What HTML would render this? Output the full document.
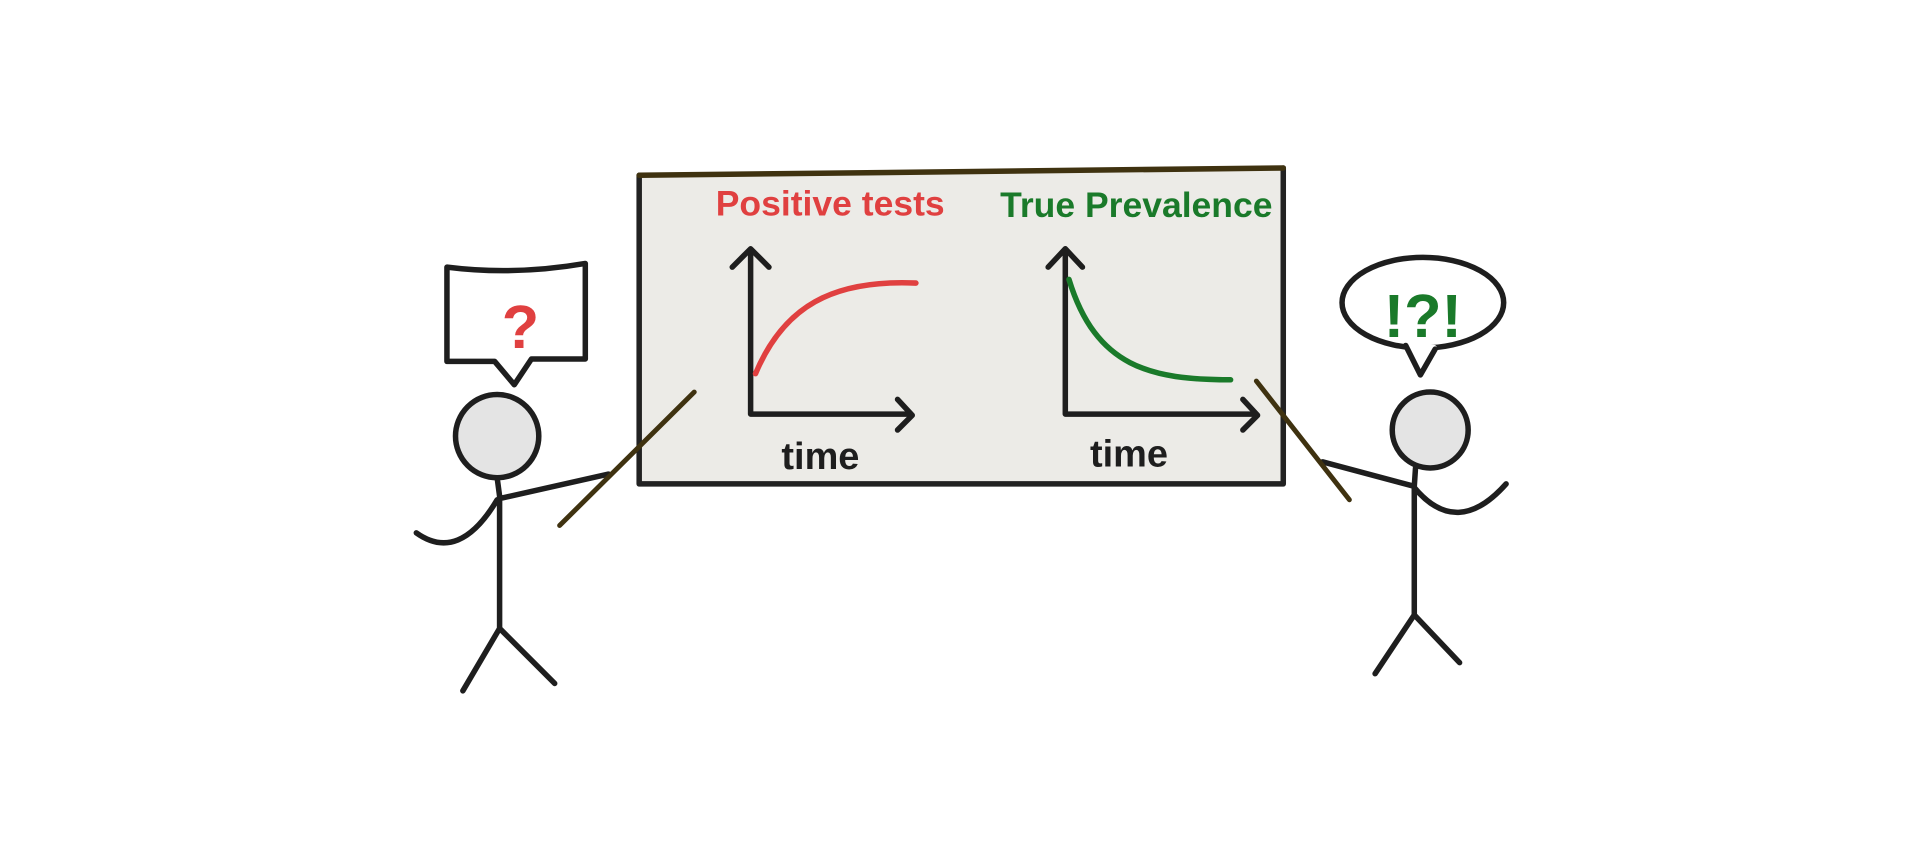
<!DOCTYPE html>
<html><head><meta charset="utf-8"><style>
html,body{margin:0;padding:0;background:#fff;}
svg{display:block}
text{font-family:"Liberation Sans",sans-serif;font-weight:bold}
</style></head><body>
<svg width="1920" height="860" viewBox="0 0 1568 702" xmlns="http://www.w3.org/2000/svg">
<rect width="1568" height="702" fill="#fff"/>
<g stroke-linecap="round" stroke-linejoin="round" fill="none">
<polygon points="522,143 1048,137 1048,395 522,395" fill="#ecebe7" stroke="none"/>
<path d="M522,143 L522,395 L1048,395 L1048,137" stroke="#222" stroke-width="4.5"/>
<path d="M522,143 L1048,137" stroke="#3f3210" stroke-width="4.5"/>
<path d="M613,205 L613,338 L743,338" stroke="#1e1e1e" stroke-width="4.5"/>
<path d="M598,218 L613,203 L628,218" stroke="#1e1e1e" stroke-width="4.5"/>
<path d="M733,326 L745,339 L733,351" stroke="#1e1e1e" stroke-width="4.5"/>
<path d="M617,305 C640,250 680,228 748,231" stroke="#e04040" stroke-width="4.5"/>
<path d="M870,205 L870,338 L1025,338" stroke="#1e1e1e" stroke-width="4.5"/>
<path d="M856,218 L870,203 L884,218" stroke="#1e1e1e" stroke-width="4.5"/>
<path d="M1015,326 L1027,339 L1015,351" stroke="#1e1e1e" stroke-width="4.5"/>
<path d="M873,228 C895,300 940,310 1005,310" stroke="#1a7a2a" stroke-width="4.5"/>
<path d="M365,218 Q420,225 478,215 L478,293 L434,293 L420,314 L404,295 L365,295 Z" stroke="#1e1e1e" stroke-width="4.5" fill="#fff"/>
<circle cx="406" cy="356" r="34" fill="#e4e4e4" stroke="#1e1e1e" stroke-width="4.5"/>
<path d="M406,390 L408,405 L408,513 M408,513 L378,564 M408,513 L453,558 M408,407 L497,387 M406,408 Q375,460 340,435" stroke="#1e1e1e" stroke-width="4.5"/>
<path d="M457,429 L567,320" stroke="#3f3210" stroke-width="4"/>
<ellipse cx="1162" cy="247" rx="66" ry="37" fill="#fff" stroke="#1e1e1e" stroke-width="4.5"/>
<path d="M1150,283 L1171,284" stroke="#fff" stroke-width="5"/>
<path d="M1148,282 L1160,306 L1172,285" stroke="#1e1e1e" stroke-width="4.5" fill="#fff"/>
<circle cx="1168" cy="351" r="31" fill="#e4e4e4" stroke="#1e1e1e" stroke-width="4.5"/>
<path d="M1156,382 L1155,397 L1155,502 M1155,502 L1123,550 M1155,502 L1192,541 M1155,397 L1080,377 M1155,398 Q1190,440 1230,395" stroke="#1e1e1e" stroke-width="4.5"/>
<path d="M1026,311 L1102,408" stroke="#3f3210" stroke-width="4"/>
</g>
<text x="425" y="284" font-size="50" fill="#e04040" text-anchor="middle">?</text>
<text x="1162" y="275" font-size="50" fill="#1a7a2a" text-anchor="middle">!?!</text>
<text x="678" y="176" font-size="29" fill="#e04040" text-anchor="middle">Positive tests</text>
<text x="928" y="177" font-size="29" fill="#1a7a2a" text-anchor="middle">True Prevalence</text>
<text x="670" y="383" font-size="31" fill="#1e1e1e" text-anchor="middle">time</text>
<text x="922" y="381" font-size="31" fill="#1e1e1e" text-anchor="middle">time</text>
</svg>
</body></html>
